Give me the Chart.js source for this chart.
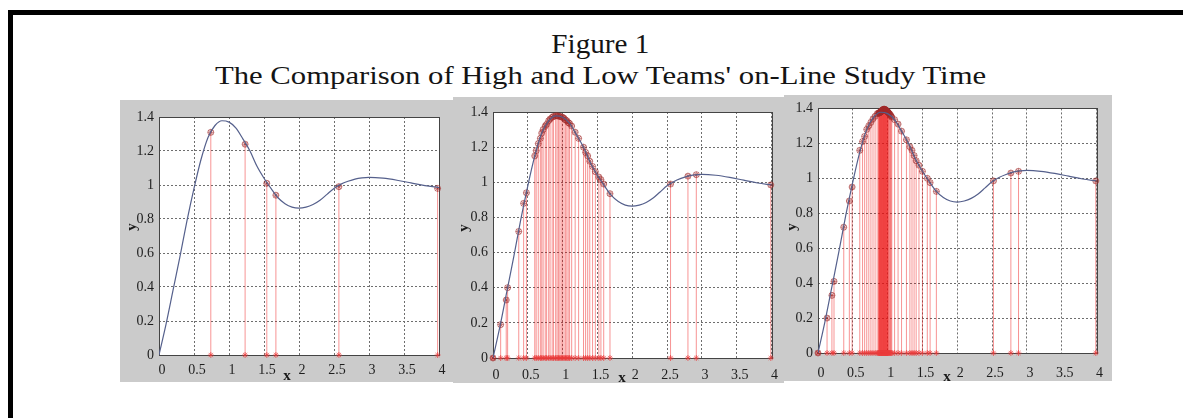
<!DOCTYPE html>
<html>
<head>
<meta charset="utf-8">
<title>Figure 1</title>
<script src="https://cdn.jsdelivr.net/npm/chart.js@4.4.1/dist/chart.umd.min.js"></script>
<style>
  html, body { margin: 0; padding: 0; background: #fff; }
  body { width: 1183px; height: 418px; position: relative; overflow: hidden;
         font-family: "Liberation Serif", "Times New Roman", serif; }
  .frame { position: absolute; left: 8px; top: 10px; width: 1300px; height: 500px;
           border-left: 5px solid #000; border-top: 5px solid #000; }
  .title { position: absolute; white-space: nowrap; color: #141414; line-height: 1;
           transform-origin: center center; }
  .panel { position: absolute; background: #cbcbcb; }
  .panel canvas { display: block; }
</style>
</head>
<body>
<div class="frame"></div>
<div id="t1" class="title" style="font-size:27px; top:31px;">Figure 1</div>
<div id="t2" class="title" style="font-size:26px; top:63px;">The Comparison of High and Low Teams' on-Line Study Time</div>

<div class="panel" style="left:120px; top:100px;"><canvas id="c1" width="333" height="282"></canvas></div>
<div class="panel" style="left:453px; top:97px;"><canvas id="c2" width="331" height="286"></canvas></div>
<div class="panel" style="left:784px; top:95px;"><canvas id="c3" width="328" height="286"></canvas></div>

<script>
/* Three stem plots over the same response curve. */

const X_TICKS = [0, 0.5, 1, 1.5, 2, 2.5, 3, 3.5, 4];
const X_TICK_LABELS = ["0", "0.5", "1", "1.5", "2", "2.5", "3", "3.5", "4"];
const Y_TICKS = [0, 0.2, 0.4, 0.6, 0.8, 1, 1.2, 1.4];
const Y_TICK_LABELS = ["0", "0.2", "0.4", "0.6", "0.8", "1", "1.2", "1.4"];

// the smooth curve (same in all three panels)
const curveX = [0, 0.1, 0.2, 0.3, 0.4, 0.5, 0.6, 0.7, 0.8, 0.9, 1.0, 1.1, 1.2, 1.3, 1.4, 1.5, 1.6, 1.7, 1.8, 1.9,
  2.0, 2.1, 2.2, 2.3, 2.4, 2.5, 2.6, 2.7, 2.8, 2.9, 3.0, 3.2, 3.4, 3.6, 3.8, 4.0];
const curveY = [0, 0.18, 0.38, 0.58, 0.79, 0.98, 1.15, 1.28, 1.35, 1.378, 1.37, 1.335, 1.27, 1.2, 1.11, 1.04, 0.98, 0.925, 0.89, 0.87,
  0.864, 0.87, 0.885, 0.91, 0.945, 0.98, 1.005, 1.022, 1.035, 1.042, 1.045, 1.04, 1.028, 1.012, 0.996, 0.985];

// left panel
const stems1X = [0.74, 1.23, 1.54, 1.67, 2.57, 3.98];
const stems1Y = [1.31, 1.24, 1.01, 0.94, 0.99, 0.98];

// middle panel
const stems2X = [0, 0.11, 0.19, 0.21, 0.37, 0.44, 0.48, 0.6, 0.62, 0.65, 0.68, 0.7, 0.72, 0.75, 0.77, 0.8, 0.82, 0.85,
  0.87, 0.9, 0.92, 0.94, 0.96, 0.98, 1.0, 1.02, 1.04, 1.06, 1.08, 1.1, 1.13, 1.18, 1.23, 1.3, 1.33, 1.36, 1.39,
  1.43, 1.47, 1.52, 1.55, 1.59, 1.68, 2.55, 2.8, 2.92, 3.99];
const stems2Y = [0, 0.19, 0.33, 0.4, 0.72, 0.88, 0.94, 1.15, 1.18, 1.22, 1.25, 1.28, 1.3, 1.32, 1.33, 1.35, 1.36, 1.37,
  1.375, 1.378, 1.378, 1.377, 1.375, 1.372, 1.37, 1.365, 1.355, 1.35, 1.34, 1.335, 1.32, 1.285, 1.25, 1.2, 1.17, 1.15, 1.12,
  1.09, 1.06, 1.03, 1.015, 0.99, 0.935, 0.99, 1.035, 1.043, 0.985];

// right panel (dense block of samples near the peak)
const stems3X = [0, 0.13, 0.2, 0.23, 0.37, 0.45, 0.49, 0.6, 0.64, 0.67, 0.7, 0.73, 0.76, 0.79, 0.82, 0.85,
  0.87, 0.875, 0.88, 0.885, 0.89, 0.895, 0.9, 0.905, 0.91, 0.915, 0.92, 0.925, 0.93, 0.935, 0.94, 0.945, 0.95,
  0.955, 0.96, 0.965, 0.97, 0.975, 0.98, 0.985, 0.99, 0.995, 1.0, 1.005, 1.01, 1.02, 1.03, 1.04, 1.05, 1.06,
  1.1, 1.15, 1.2, 1.27, 1.32, 1.35, 1.38, 1.41, 1.45, 1.5, 1.57, 1.61, 1.7, 2.52, 2.77, 2.88, 3.99];
const stems3Y = [0, 0.2, 0.33, 0.41, 0.72, 0.87, 0.95, 1.16, 1.21, 1.24, 1.28, 1.3, 1.32, 1.34, 1.355, 1.37,
  1.372, 1.374, 1.375, 1.376, 1.377, 1.378, 1.38, 1.382, 1.384, 1.386, 1.388, 1.39, 1.392, 1.393, 1.394, 1.395, 1.395,
  1.395, 1.394, 1.393, 1.392, 1.39, 1.388, 1.386, 1.384, 1.382, 1.38, 1.378, 1.376, 1.372, 1.368, 1.362, 1.356, 1.35,
  1.335, 1.31, 1.27, 1.22, 1.18, 1.16, 1.13, 1.1, 1.075, 1.04, 1.0, 0.975, 0.925, 0.985, 1.03, 1.04, 0.985];

const FONT = "'Liberation Serif', 'Times New Roman', serif";
const GRID_COLOR = "#6e6e6e";
const CURVE_COLOR = "#55608c";
const STEM_COLOR = "rgba(238,18,18,0.45)";
const MARK_COLOR = "rgba(160,40,40,0.6)";
const BASE_MARK_COLOR = "rgba(235,60,60,0.7)";

function points(xs, ys) {
  return xs.map((x, i) => ({ x, y: ys[i] }));
}

// each stem is a short segment from y=0 up to the sample, separated by a gap
function stemSegments(xs, ys) {
  const out = [];
  xs.forEach((x, i) => {
    out.push({ x, y: 0 }, { x, y: ys[i] }, { x, y: null });
  });
  return out;
}

const panelDecor = {
  id: "panelDecor",
  beforeDraw(chart) {
    const { ctx, chartArea: a } = chart;
    ctx.save();
    ctx.fillStyle = "#fff";
    ctx.fillRect(a.left, a.top, a.right - a.left, a.bottom - a.top);
    ctx.restore();
  },
  beforeDatasetsDraw(chart) {
    const { ctx, chartArea: a } = chart;
    ctx.save();
    ctx.strokeStyle = "#444";
    ctx.lineWidth = 1;
    ctx.strokeRect(Math.round(a.left) + 0.5, Math.round(a.top) + 0.5,
      Math.round(a.right - a.left), Math.round(a.bottom - a.top));
    ctx.restore();
  },
  afterDraw(chart, args, opts) {
    const ctx = chart.ctx;
    ctx.save();
    ctx.fillStyle = "#1a1a1a";
    ctx.font = "bold 15px " + FONT;
    ctx.textAlign = "center";
    ctx.textBaseline = "middle";
    ctx.fillText("x", opts.xLabel[0], opts.xLabel[1]);
    ctx.translate(opts.yLabel[0], opts.yLabel[1]);
    ctx.rotate(-Math.PI / 2);
    ctx.fillText("y", 0, 0);
    ctx.restore();
  },
};

function makePanel(id, stemsX, stemsY, box) {
  const tickFont = { family: FONT, size: 14 };
  new Chart(document.getElementById(id), {
    type: "scatter",
    data: {
      datasets: [
        {
          data: points(curveX, curveY),
          showLine: true,
          borderColor: CURVE_COLOR,
          borderWidth: 1.2,
          pointRadius: 0,
          cubicInterpolationMode: "monotone",
          order: 0,
        },
        {
          data: points(stemsX, stemsY),
          pointStyle: "circle",
          pointRadius: 3,
          borderColor: MARK_COLOR,
          backgroundColor: "rgba(0,0,0,0)",
          borderWidth: 1,
          clip: false,
          order: 1,
        },
        {
          data: points(stemsX, stemsY),
          pointStyle: "star",
          pointRadius: 3,
          borderColor: MARK_COLOR,
          borderWidth: 1,
          clip: false,
          order: 2,
        },
        {
          data: points(stemsX, stemsX.map(() => 0)),
          pointStyle: "star",
          pointRadius: 3,
          borderColor: BASE_MARK_COLOR,
          borderWidth: 1,
          clip: false,
          order: 3,
        },
        {
          data: stemSegments(stemsX, stemsY),
          showLine: true,
          spanGaps: false,
          borderColor: STEM_COLOR,
          borderWidth: 1,
          pointRadius: 0,
          tension: 0,
          order: 4,
        },
      ],
    },
    options: {
      responsive: false,
      animation: false,
      devicePixelRatio: 1,
      layout: { padding: { left: 0, top: box.top, right: box.right, bottom: 0 } },
      plugins: {
        legend: { display: false },
        tooltip: { enabled: false },
        panelDecor: { xLabel: box.xLabel, yLabel: box.yLabel },
      },
      scales: {
        x: {
          type: "linear",
          min: 0,
          max: 4,
          afterBuildTicks: (s) => { s.ticks = X_TICKS.map((v) => ({ value: v })); },
          afterFit: (s) => { s.height = box.bottom; },
          ticks: {
            callback: (v, i) => X_TICK_LABELS[i],
            font: tickFont,
            color: "#1e1e1e",
            padding: box.xPad,
            labelOffset: 3,
            maxRotation: 0,
            autoSkip: false,
          },
          grid: { color: GRID_COLOR, lineWidth: 1, drawTicks: false },
          border: { display: false, dash: [2, 2] },
        },
        y: {
          type: "linear",
          min: 0,
          max: 1.4,
          afterBuildTicks: (s) => { s.ticks = Y_TICKS.map((v) => ({ value: v })); },
          afterFit: (s) => { s.width = box.left; },
          ticks: {
            callback: (v, i) => Y_TICK_LABELS[i],
            font: tickFont,
            color: "#1e1e1e",
            padding: 5,
            autoSkip: false,
          },
          grid: { color: GRID_COLOR, lineWidth: 1, drawTicks: false },
          border: { display: false, dash: [2, 2] },
        },
      },
    },
    plugins: [panelDecor],
  });
}

makePanel("c1", stems1X, stems1Y, { left: 39, top: 17, right: 14, bottom: 27, xPad: 7, xLabel: [167, 276], yLabel: [12, 127] });
makePanel("c2", stems2X, stems2Y, { left: 40, top: 15, right: 8, bottom: 25, xPad: 9, xLabel: [169, 281], yLabel: [11, 131] });
makePanel("c3", stems3X, stems3Y, { left: 34, top: 12, right: 6, bottom: 28, xPad: 12, xLabel: [163, 282], yLabel: [8, 132] });

// the original title face is wider than Times, so stretch to the measured width
function fitTitle(id, centerX, targetWidth) {
  const el = document.getElementById(id);
  const w = el.getBoundingClientRect().width;
  el.style.left = (centerX - w / 2) + "px";
  el.style.transform = `scaleX(${(targetWidth / w).toFixed(3)})`;
}
fitTitle("t1", 600, 98);
fitTitle("t2", 601, 771);
</script>
</body>
</html>
